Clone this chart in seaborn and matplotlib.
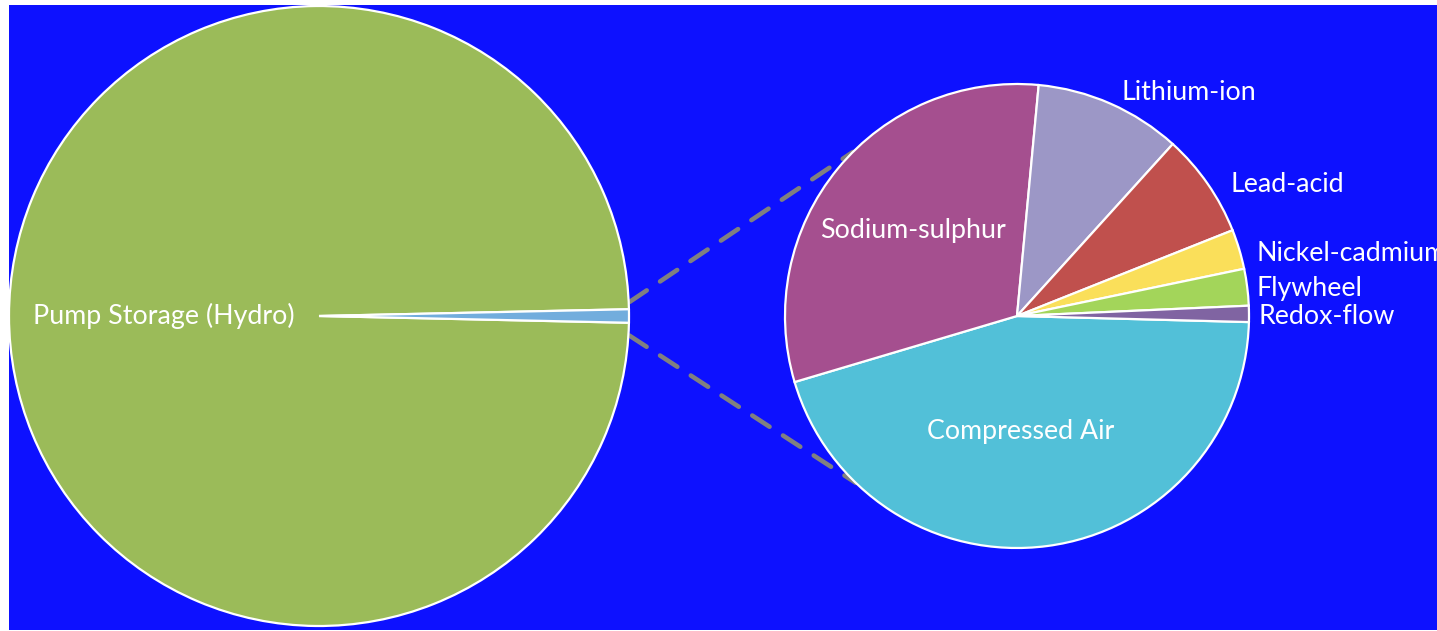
import numpy as np
import matplotlib
matplotlib.use("Agg")
import matplotlib.pyplot as plt
import seaborn as sns
from matplotlib.patches import ConnectionPatch, Rectangle

# Data (MW)
main_labels = ["Pump Storage (Hydro)", ""]
main_values = [140000, 978]

other_labels = ["Compressed Air", "Sodium-sulphur", "Lithium-ion", "Lead-acid",
                "Nickel-cadmium", "Flywheel", "Redox-flow"]
other_values = [440, 304, 100, 71, 27, 25, 11]

main_colors = ["#9bbb59", "#72addd"]
other_colors = ["#52c0d8", "#a54f8f", "#9c97c6", "#c0504d", "#fadf5a", "#a3d55a", "#8064a2"]

sns.set_theme(style="white")
plt.rcParams["font.family"] = ["Lato", "DejaVu Sans"]

W, H = 1437, 631
fig = plt.figure(figsize=(W / 100, H / 100), dpi=100)
fig.patch.set_facecolor("white")
fig.patches.append(Rectangle((9 / W, 1 / H), 1428 / W, 625 / H, transform=fig.transFigure,
                             facecolor="#0d11ff", edgecolor="none", zorder=-10))

def pie_axes(cx, cy, r, lim=1.05):
    # place an axes so the unit circle lands at pixel centre (cx, cy) with radius r
    half = r * lim
    return fig.add_axes([(cx - half) / W, (H - cy - half) / H, 2 * half / W, 2 * half / H])

wedge_kw = dict(edgecolor="white", linewidth=1.6)
text_kw = dict(color="white", fontsize=19.3)

# left pie
ax1 = pie_axes(319, 316, 310)
frac = main_values[1] / sum(main_values) * 360
w1, t1 = ax1.pie(main_values, colors=main_colors, startangle=-frac / 2, counterclock=False,
                 labels=main_labels, labeldistance=0.5, wedgeprops=wedge_kw, textprops=text_kw)
t1[0].set_horizontalalignment("center")
ax1.set_xlim(-1.05, 1.05)
ax1.set_ylim(-1.05, 1.05)
ax1.axis("off")

# right pie
ax2 = pie_axes(1017, 316, 232)
w2, t2 = ax2.pie(other_values, colors=other_colors, startangle=-1.5, counterclock=False,
                 labels=other_labels, wedgeprops=wedge_kw, textprops=text_kw)
label_dist = [0.5, 0.58, 1.12, 1.12, 1.08, 1.04, 1.04]
label_dx = [-0.05, 0, 0, 0, 0, 0, 0]
label_dy = [0, 0, -0.06, -0.07, -0.04, -0.01, -0.01]
for w, t, d, dx, dy in zip(w2, t2, label_dist, label_dx, label_dy):
    ang = np.deg2rad((w.theta1 + w.theta2) / 2)
    t.set_position((d * np.cos(ang) + dx, d * np.sin(ang) + dy))
    if d < 1:
        t.set_horizontalalignment("center")
ax2.set_xlim(-1.05, 1.05)
ax2.set_ylim(-1.05, 1.05)
ax2.axis("off")

# connector lines
for a_ang, b_ang in [(2.6, 135), (-3.6, 226)]:
    ra = np.deg2rad(a_ang)
    rb = np.deg2rad(b_ang)
    con = ConnectionPatch(xyA=(1.003 * np.cos(ra), 1.003 * np.sin(ra)), coordsA=ax1.transData,
                          xyB=(np.cos(rb), np.sin(rb)), coordsB=ax2.transData,
                          color="#808080", linewidth=3.3, linestyle=(0, (4.5, 3.5)), zorder=-5)
    fig.add_artist(con)

fig.savefig("out.png", dpi=100, facecolor=fig.get_facecolor())
